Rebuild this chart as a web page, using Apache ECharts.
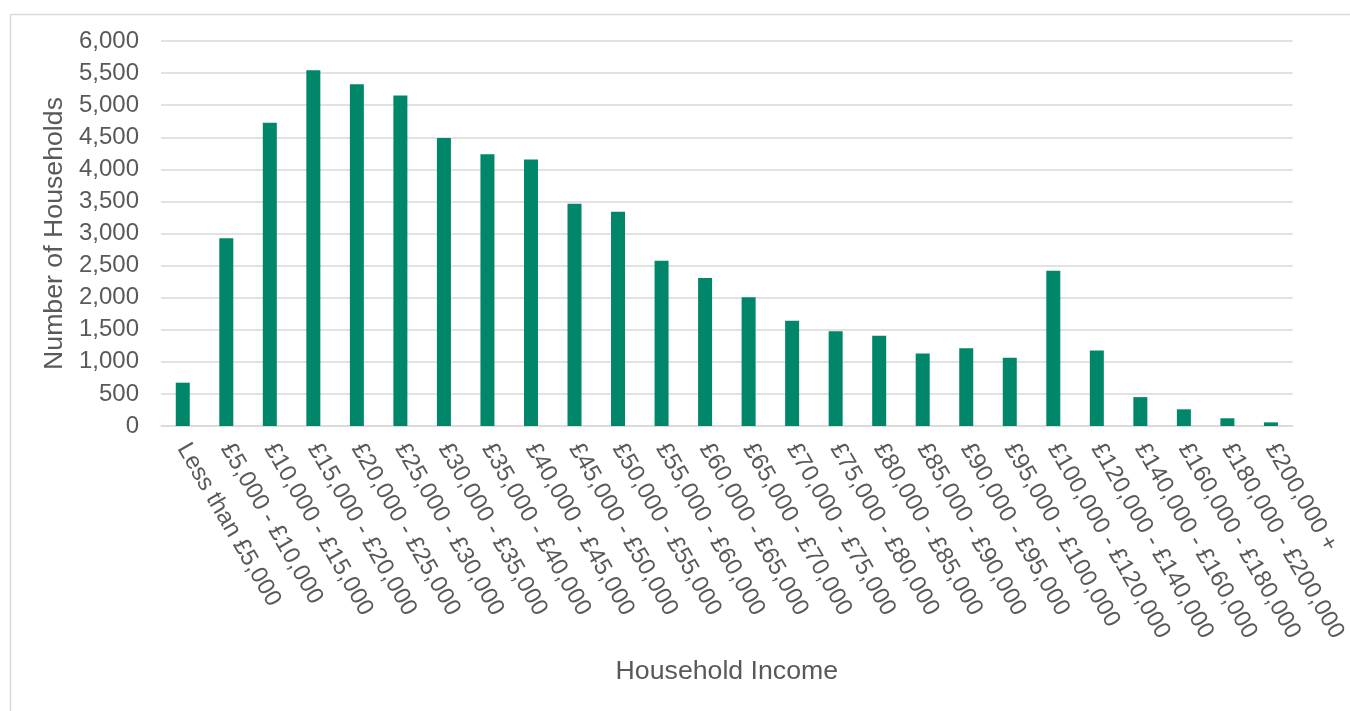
<!DOCTYPE html>
<html>
<head>
<meta charset="utf-8">
<style>
  html, body { margin: 0; padding: 0; background: #ffffff; }
  #chart { width: 1350px; height: 711px; }
</style>
<script src="https://cdn.jsdelivr.net/npm/echarts@6/dist/echarts.min.js"></script>
</head>
<body>
<div id="chart"></div>
<script>
// Household income bands
const incomeBands = [
  'Less than £5,000', '£5,000 - £10,000', '£10,000 - £15,000', '£15,000 - £20,000',
  '£20,000 - £25,000', '£25,000 - £30,000', '£30,000 - £35,000', '£35,000 - £40,000',
  '£40,000 - £45,000', '£45,000 - £50,000', '£50,000 - £55,000', '£55,000 - £60,000',
  '£60,000 - £65,000', '£65,000 - £70,000', '£70,000 - £75,000', '£75,000 - £80,000',
  '£80,000 - £85,000', '£85,000 - £90,000', '£90,000 - £95,000', '£95,000 - £100,000',
  '£100,000 - £120,000', '£120,000 - £140,000', '£140,000 - £160,000',
  '£160,000 - £180,000', '£180,000 - £200,000', '£200,000 +'
];

// Number of households in each band
const households = [
  675, 2925, 4725, 5545, 5325, 5150, 4490, 4235,
  4155, 3465, 3340, 2575, 2305, 2005, 1640, 1475,
  1405, 1130, 1210, 1065, 2420, 1175, 450, 260,
  120, 57
];

const yTicks = { min: 0, max: 6000, interval: 500 };

const textColor = '#595959';
const fontFamily = '"Liberation Sans", Arial, sans-serif';

const chart = echarts.init(document.getElementById('chart'), null, { renderer: 'canvas' });

chart.setOption({
  backgroundColor: '#ffffff',
  animation: false,
  graphic: [{
    type: 'rect',
    left: 8, top: 12,
    shape: { width: 1400, height: 760 },
    style: { fill: 'none', stroke: '#d9d9d9', lineWidth: 1.5 },
    silent: true
  }],
  grid: { left: 161, right: 54, top: 41, bottom: 285, containLabel: false },
  xAxis: {
    type: 'category',
    data: incomeBands,
    name: 'Household Income',
    nameLocation: 'middle',
    nameGap: 232,
    nameTextStyle: { color: textColor, fontSize: 26.7, fontFamily: fontFamily },
    axisLine: { show: true, lineStyle: { color: '#d9d9d9', width: 1.5 } },
    axisTick: { show: false },
    axisLabel: {
      interval: 0,
      rotate: -60,
      margin: 19,
      color: textColor,
      fontSize: 24,
      fontFamily: fontFamily
    }
  },
  yAxis: {
    type: 'value',
    min: yTicks.min,
    max: yTicks.max,
    interval: yTicks.interval,
    name: 'Number of Households',
    nameLocation: 'middle',
    nameGap: 90,
    nameTextStyle: { color: textColor, fontSize: 26.7, fontFamily: fontFamily },
    axisLine: { show: false },
    axisTick: { show: false },
    splitLine: { show: true, lineStyle: { color: '#d9d9d9', width: 1.5 } },
    axisLabel: {
      margin: 22,
      color: textColor,
      fontSize: 24,
      fontFamily: fontFamily,
      formatter: v => v.toLocaleString('en-GB')
    }
  },
  series: [{
    type: 'bar',
    data: households,
    barWidth: 14,
    itemStyle: { color: '#00876a' }
  }]
});
</script>
</body>
</html>
